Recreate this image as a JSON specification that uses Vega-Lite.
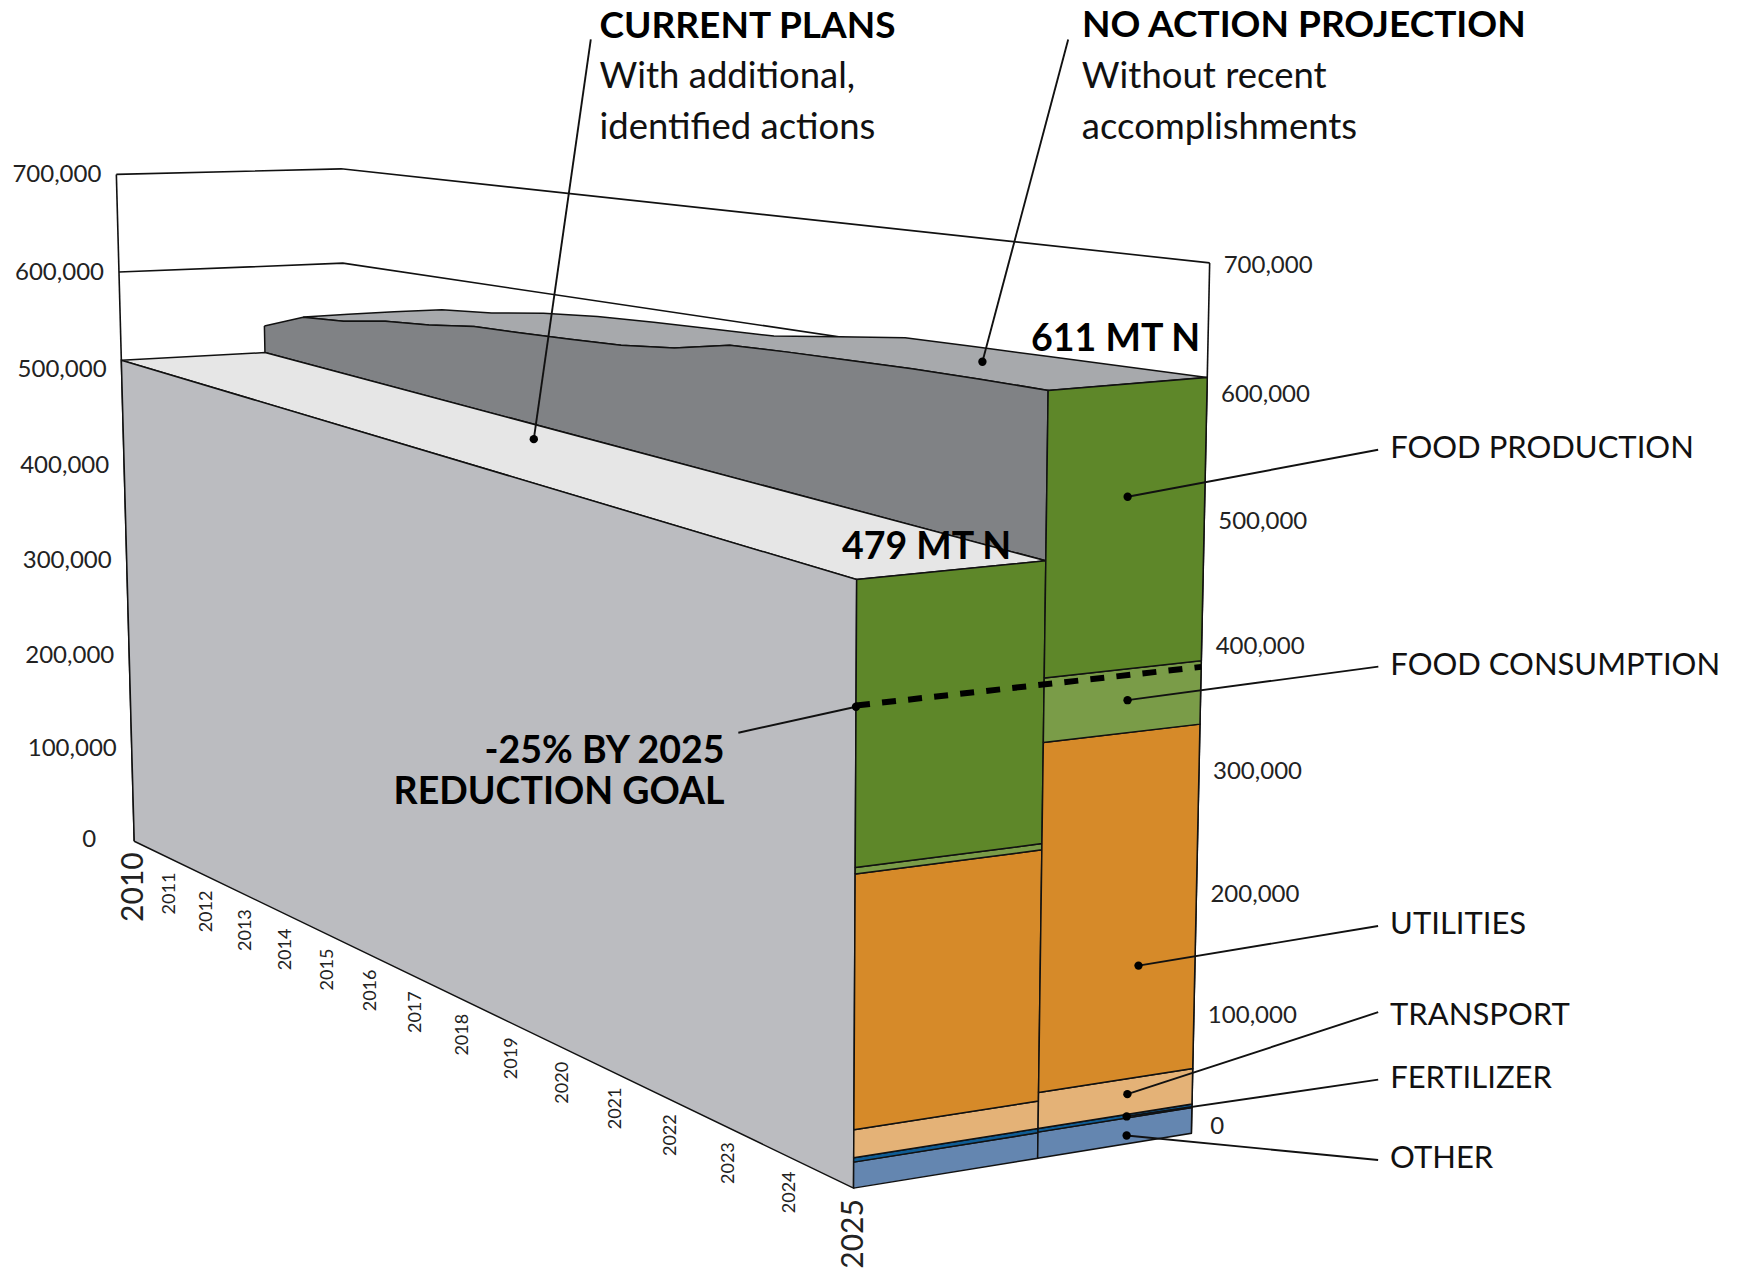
{
"$schema":"https://vega.github.io/schema/vega-lite/v6.json",
"width":1754,"height":1272,"padding":0,"autosize":{"type":"fit","contains":"padding"},
"background":"white",
"config":{"view":{"stroke":null},"font":"Lato"},
"data":{"values":[
{"set":"frame","path":"top700","i":0,"year":2010,"lane":"front","value":700000},
{"set":"frame","path":"top700","i":1,"year":2010,"lane":"frame","value":700000},
{"set":"frame","path":"top700","i":2,"year":2025,"lane":"frame","value":700000},
{"set":"frame","path":"top600","i":0,"year":2010,"lane":"front","value":600000},
{"set":"frame","path":"top600","i":1,"year":2010,"lane":"frame","value":600000},
{"set":"frame","path":"top600","i":2,"year":2025,"lane":"frame","value":600000},
{"set":"frame","path":"left","i":0,"year":2010,"lane":"front","value":700000},
{"set":"frame","path":"left","i":1,"year":2010,"lane":"front","value":0},
{"set":"frame","path":"right","i":0,"year":2025,"lane":"frame","value":700000},
{"set":"frame","path":"right","i":1,"year":2025,"lane":"frame","value":0},

{"set":"face","face":"noActionTop","kind":"No action top","i":0,"year":2010,"lane":"back","value":544600},
{"set":"face","face":"noActionTop","kind":"No action top","i":1,"year":2011,"lane":"back","value":555100},
{"set":"face","face":"noActionTop","kind":"No action top","i":2,"year":2012,"lane":"back","value":565400},
{"set":"face","face":"noActionTop","kind":"No action top","i":3,"year":2013,"lane":"back","value":574900},
{"set":"face","face":"noActionTop","kind":"No action top","i":4,"year":2014,"lane":"back","value":579200},
{"set":"face","face":"noActionTop","kind":"No action top","i":5,"year":2015,"lane":"back","value":586400},
{"set":"face","face":"noActionTop","kind":"No action top","i":6,"year":2016,"lane":"back","value":590900},
{"set":"face","face":"noActionTop","kind":"No action top","i":7,"year":2017,"lane":"back","value":593000},
{"set":"face","face":"noActionTop","kind":"No action top","i":8,"year":2018,"lane":"back","value":594500},
{"set":"face","face":"noActionTop","kind":"No action top","i":9,"year":2019,"lane":"back","value":596000},
{"set":"face","face":"noActionTop","kind":"No action top","i":10,"year":2020,"lane":"back","value":603300},
{"set":"face","face":"noActionTop","kind":"No action top","i":11,"year":2021,"lane":"back","value":610400},
{"set":"face","face":"noActionTop","kind":"No action top","i":12,"year":2022,"lane":"back","value":610700},
{"set":"face","face":"noActionTop","kind":"No action top","i":13,"year":2023,"lane":"back","value":610900},
{"set":"face","face":"noActionTop","kind":"No action top","i":14,"year":2024,"lane":"back","value":611000},
{"set":"face","face":"noActionTop","kind":"No action top","i":15,"year":2025,"lane":"back","value":611000},
{"set":"face","face":"noActionTop","kind":"No action top","i":16,"year":2025,"lane":"boundary","value":611000},
{"set":"face","face":"noActionTop","kind":"No action top","i":17,"year":2024,"lane":"boundary","value":610500},
{"set":"face","face":"noActionTop","kind":"No action top","i":18,"year":2023,"lane":"boundary","value":609500},
{"set":"face","face":"noActionTop","kind":"No action top","i":19,"year":2022,"lane":"boundary","value":607400},
{"set":"face","face":"noActionTop","kind":"No action top","i":20,"year":2021,"lane":"boundary","value":605300},
{"set":"face","face":"noActionTop","kind":"No action top","i":21,"year":2020,"lane":"boundary","value":602500},
{"set":"face","face":"noActionTop","kind":"No action top","i":22,"year":2019,"lane":"boundary","value":591500},
{"set":"face","face":"noActionTop","kind":"No action top","i":23,"year":2018,"lane":"boundary","value":585300},
{"set":"face","face":"noActionTop","kind":"No action top","i":24,"year":2017,"lane":"boundary","value":582300},
{"set":"face","face":"noActionTop","kind":"No action top","i":25,"year":2016,"lane":"boundary","value":579700},
{"set":"face","face":"noActionTop","kind":"No action top","i":26,"year":2015,"lane":"boundary","value":577400},
{"set":"face","face":"noActionTop","kind":"No action top","i":27,"year":2014,"lane":"boundary","value":570700},
{"set":"face","face":"noActionTop","kind":"No action top","i":28,"year":2013,"lane":"boundary","value":566300},
{"set":"face","face":"noActionTop","kind":"No action top","i":29,"year":2012,"lane":"boundary","value":558300},
{"set":"face","face":"noActionTop","kind":"No action top","i":30,"year":2011,"lane":"boundary","value":554400},
{"set":"face","face":"noActionTop","kind":"No action top","i":31,"year":2010,"lane":"back","value":544600},

{"set":"face","face":"noActionWall","kind":"No action wall","i":0,"year":2010,"lane":"boundary","value":537000},
{"set":"face","face":"noActionWall","kind":"No action wall","i":1,"year":2011,"lane":"boundary","value":554400},
{"set":"face","face":"noActionWall","kind":"No action wall","i":2,"year":2012,"lane":"boundary","value":558300},
{"set":"face","face":"noActionWall","kind":"No action wall","i":3,"year":2013,"lane":"boundary","value":566300},
{"set":"face","face":"noActionWall","kind":"No action wall","i":4,"year":2014,"lane":"boundary","value":570700},
{"set":"face","face":"noActionWall","kind":"No action wall","i":5,"year":2015,"lane":"boundary","value":577400},
{"set":"face","face":"noActionWall","kind":"No action wall","i":6,"year":2016,"lane":"boundary","value":579700},
{"set":"face","face":"noActionWall","kind":"No action wall","i":7,"year":2017,"lane":"boundary","value":582300},
{"set":"face","face":"noActionWall","kind":"No action wall","i":8,"year":2018,"lane":"boundary","value":585300},
{"set":"face","face":"noActionWall","kind":"No action wall","i":9,"year":2019,"lane":"boundary","value":591500},
{"set":"face","face":"noActionWall","kind":"No action wall","i":10,"year":2020,"lane":"boundary","value":602500},
{"set":"face","face":"noActionWall","kind":"No action wall","i":11,"year":2021,"lane":"boundary","value":605300},
{"set":"face","face":"noActionWall","kind":"No action wall","i":12,"year":2022,"lane":"boundary","value":607400},
{"set":"face","face":"noActionWall","kind":"No action wall","i":13,"year":2023,"lane":"boundary","value":609500},
{"set":"face","face":"noActionWall","kind":"No action wall","i":14,"year":2024,"lane":"boundary","value":610500},
{"set":"face","face":"noActionWall","kind":"No action wall","i":15,"year":2025,"lane":"boundary","value":611000},
{"set":"face","face":"noActionWall","kind":"No action wall","i":16,"year":2025,"lane":"boundary","value":479000},
{"set":"face","face":"noActionWall","kind":"No action wall","i":17,"year":2010,"lane":"boundary","value":509000},
{"set":"face","face":"noActionWall","kind":"No action wall","i":18,"year":2010,"lane":"boundary","value":537000},

{"set":"face","face":"currentTop","kind":"Current top","i":0,"year":2010,"lane":"front","value":509000},
{"set":"face","face":"currentTop","kind":"Current top","i":1,"year":2010,"lane":"boundary","value":509000},
{"set":"face","face":"currentTop","kind":"Current top","i":2,"year":2025,"lane":"boundary","value":479000},
{"set":"face","face":"currentTop","kind":"Current top","i":3,"year":2025,"lane":"front","value":479000},
{"set":"face","face":"currentTop","kind":"Current top","i":4,"year":2010,"lane":"front","value":509000},

{"set":"face","face":"currentSide","kind":"Current side","i":0,"year":2010,"lane":"front","value":0},
{"set":"face","face":"currentSide","kind":"Current side","i":1,"year":2010,"lane":"front","value":509000},
{"set":"face","face":"currentSide","kind":"Current side","i":2,"year":2025,"lane":"front","value":479000},
{"set":"face","face":"currentSide","kind":"Current side","i":3,"year":2025,"lane":"front","value":0},
{"set":"face","face":"currentSide","kind":"Current side","i":4,"year":2010,"lane":"front","value":0},

{"set":"face","face":"cur-other","kind":"Other","i":0,"year":2025,"lane":"front","value":0},
{"set":"face","face":"cur-other","kind":"Other","i":1,"year":2025,"lane":"front","value":21000},
{"set":"face","face":"cur-other","kind":"Other","i":2,"year":2025,"lane":"boundary","value":21000},
{"set":"face","face":"cur-other","kind":"Other","i":3,"year":2025,"lane":"boundary","value":0},
{"set":"face","face":"cur-other","kind":"Other","i":4,"year":2025,"lane":"front","value":0},
{"set":"face","face":"cur-fert","kind":"Fertilizer","i":0,"year":2025,"lane":"front","value":21000},
{"set":"face","face":"cur-fert","kind":"Fertilizer","i":1,"year":2025,"lane":"front","value":24500},
{"set":"face","face":"cur-fert","kind":"Fertilizer","i":2,"year":2025,"lane":"boundary","value":24500},
{"set":"face","face":"cur-fert","kind":"Fertilizer","i":3,"year":2025,"lane":"boundary","value":21000},
{"set":"face","face":"cur-fert","kind":"Fertilizer","i":4,"year":2025,"lane":"front","value":21000},
{"set":"face","face":"cur-trans","kind":"Transport","i":0,"year":2025,"lane":"front","value":24500},
{"set":"face","face":"cur-trans","kind":"Transport","i":1,"year":2025,"lane":"front","value":47000},
{"set":"face","face":"cur-trans","kind":"Transport","i":2,"year":2025,"lane":"boundary","value":47000},
{"set":"face","face":"cur-trans","kind":"Transport","i":3,"year":2025,"lane":"boundary","value":24500},
{"set":"face","face":"cur-trans","kind":"Transport","i":4,"year":2025,"lane":"front","value":24500},
{"set":"face","face":"cur-util","kind":"Utilities","i":0,"year":2025,"lane":"front","value":47000},
{"set":"face","face":"cur-util","kind":"Utilities","i":1,"year":2025,"lane":"front","value":250500},
{"set":"face","face":"cur-util","kind":"Utilities","i":2,"year":2025,"lane":"boundary","value":250500},
{"set":"face","face":"cur-util","kind":"Utilities","i":3,"year":2025,"lane":"boundary","value":47000},
{"set":"face","face":"cur-util","kind":"Utilities","i":4,"year":2025,"lane":"front","value":47000},
{"set":"face","face":"cur-cons","kind":"Food consumption","i":0,"year":2025,"lane":"front","value":250500},
{"set":"face","face":"cur-cons","kind":"Food consumption","i":1,"year":2025,"lane":"front","value":255500},
{"set":"face","face":"cur-cons","kind":"Food consumption","i":2,"year":2025,"lane":"boundary","value":255500},
{"set":"face","face":"cur-cons","kind":"Food consumption","i":3,"year":2025,"lane":"boundary","value":250500},
{"set":"face","face":"cur-cons","kind":"Food consumption","i":4,"year":2025,"lane":"front","value":250500},
{"set":"face","face":"cur-prod","kind":"Food production","i":0,"year":2025,"lane":"front","value":255500},
{"set":"face","face":"cur-prod","kind":"Food production","i":1,"year":2025,"lane":"front","value":479000},
{"set":"face","face":"cur-prod","kind":"Food production","i":2,"year":2025,"lane":"boundary","value":479000},
{"set":"face","face":"cur-prod","kind":"Food production","i":3,"year":2025,"lane":"boundary","value":255500},
{"set":"face","face":"cur-prod","kind":"Food production","i":4,"year":2025,"lane":"front","value":255500},

{"set":"face","face":"na-other","kind":"Other","i":0,"year":2025,"lane":"boundary","value":0},
{"set":"face","face":"na-other","kind":"Other","i":1,"year":2025,"lane":"boundary","value":21500},
{"set":"face","face":"na-other","kind":"Other","i":2,"year":2025,"lane":"back","value":21500},
{"set":"face","face":"na-other","kind":"Other","i":3,"year":2025,"lane":"back","value":0},
{"set":"face","face":"na-other","kind":"Other","i":4,"year":2025,"lane":"boundary","value":0},
{"set":"face","face":"na-fert","kind":"Fertilizer","i":0,"year":2025,"lane":"boundary","value":21500},
{"set":"face","face":"na-fert","kind":"Fertilizer","i":1,"year":2025,"lane":"boundary","value":24500},
{"set":"face","face":"na-fert","kind":"Fertilizer","i":2,"year":2025,"lane":"back","value":24500},
{"set":"face","face":"na-fert","kind":"Fertilizer","i":3,"year":2025,"lane":"back","value":21500},
{"set":"face","face":"na-fert","kind":"Fertilizer","i":4,"year":2025,"lane":"boundary","value":21500},
{"set":"face","face":"na-trans","kind":"Transport","i":0,"year":2025,"lane":"boundary","value":24500},
{"set":"face","face":"na-trans","kind":"Transport","i":1,"year":2025,"lane":"boundary","value":54000},
{"set":"face","face":"na-trans","kind":"Transport","i":2,"year":2025,"lane":"back","value":54000},
{"set":"face","face":"na-trans","kind":"Transport","i":3,"year":2025,"lane":"back","value":24500},
{"set":"face","face":"na-trans","kind":"Transport","i":4,"year":2025,"lane":"boundary","value":24500},
{"set":"face","face":"na-util","kind":"Utilities","i":0,"year":2025,"lane":"boundary","value":54000},
{"set":"face","face":"na-util","kind":"Utilities","i":1,"year":2025,"lane":"boundary","value":336000},
{"set":"face","face":"na-util","kind":"Utilities","i":2,"year":2025,"lane":"back","value":336000},
{"set":"face","face":"na-util","kind":"Utilities","i":3,"year":2025,"lane":"back","value":54000},
{"set":"face","face":"na-util","kind":"Utilities","i":4,"year":2025,"lane":"boundary","value":54000},
{"set":"face","face":"na-cons","kind":"Food consumption","i":0,"year":2025,"lane":"boundary","value":336000},
{"set":"face","face":"na-cons","kind":"Food consumption","i":1,"year":2025,"lane":"boundary","value":387000},
{"set":"face","face":"na-cons","kind":"Food consumption","i":2,"year":2025,"lane":"back","value":387000},
{"set":"face","face":"na-cons","kind":"Food consumption","i":3,"year":2025,"lane":"back","value":336000},
{"set":"face","face":"na-cons","kind":"Food consumption","i":4,"year":2025,"lane":"boundary","value":336000},
{"set":"face","face":"na-prod","kind":"Food production","i":0,"year":2025,"lane":"boundary","value":387000},
{"set":"face","face":"na-prod","kind":"Food production","i":1,"year":2025,"lane":"boundary","value":611000},
{"set":"face","face":"na-prod","kind":"Food production","i":2,"year":2025,"lane":"back","value":611000},
{"set":"face","face":"na-prod","kind":"Food production","i":3,"year":2025,"lane":"back","value":387000},
{"set":"face","face":"na-prod","kind":"Food production","i":4,"year":2025,"lane":"boundary","value":387000},

{"set":"goal","i":0,"year":2025,"lane":"front","value":382000},
{"set":"goal","i":1,"year":2025,"lane":"back","value":382000},

{"set":"tickLeft","year":2010,"lane":"front","value":100000},
{"set":"tickLeft","year":2010,"lane":"front","value":200000},
{"set":"tickLeft","year":2010,"lane":"front","value":300000},
{"set":"tickLeft","year":2010,"lane":"front","value":400000},
{"set":"tickLeft","year":2010,"lane":"front","value":500000},
{"set":"tickLeft","year":2010,"lane":"front","value":600000},
{"set":"tickLeft","year":2010,"lane":"front","value":700000},
{"set":"tickLeftZero","year":2010,"lane":"front","value":0},
{"set":"tickRight","year":2025,"lane":"frame","value":100000},
{"set":"tickRight","year":2025,"lane":"frame","value":200000},
{"set":"tickRight","year":2025,"lane":"frame","value":300000},
{"set":"tickRight","year":2025,"lane":"frame","value":400000},
{"set":"tickRight","year":2025,"lane":"frame","value":500000},
{"set":"tickRight","year":2025,"lane":"frame","value":600000},
{"set":"tickRight","year":2025,"lane":"frame","value":700000},
{"set":"tickRightZero","year":2025,"lane":"frame","value":0},

{"set":"yearTick","year":2010,"lane":"front","value":0},
{"set":"yearTick","year":2011,"lane":"front","value":0},
{"set":"yearTick","year":2012,"lane":"front","value":0},
{"set":"yearTick","year":2013,"lane":"front","value":0},
{"set":"yearTick","year":2014,"lane":"front","value":0},
{"set":"yearTick","year":2015,"lane":"front","value":0},
{"set":"yearTick","year":2016,"lane":"front","value":0},
{"set":"yearTick","year":2017,"lane":"front","value":0},
{"set":"yearTick","year":2018,"lane":"front","value":0},
{"set":"yearTick","year":2019,"lane":"front","value":0},
{"set":"yearTick","year":2020,"lane":"front","value":0},
{"set":"yearTick","year":2021,"lane":"front","value":0},
{"set":"yearTick","year":2022,"lane":"front","value":0},
{"set":"yearTick","year":2023,"lane":"front","value":0},
{"set":"yearTick","year":2024,"lane":"front","value":0},
{"set":"yearTick","year":2025,"lane":"front","value":0},

{"set":"leader","path":"foodProduction","i":0,"year":2025,"value":523000,"depth":0.778},
{"set":"leader","path":"foodProduction","i":1,"year":2025,"value":542000,"depth":1.496},
{"set":"leader","path":"foodConsumption","i":0,"year":2025,"value":362000,"depth":0.788},
{"set":"leader","path":"foodConsumption","i":1,"year":2025,"value":366000,"depth":1.515},
{"set":"leader","path":"utilities","i":0,"year":2025,"value":145900,"depth":0.834},
{"set":"leader","path":"utilities","i":1,"year":2025,"value":150400,"depth":1.537},
{"set":"leader","path":"transport","i":0,"year":2025,"value":41200,"depth":0.808},
{"set":"leader","path":"transport","i":1,"year":2025,"value":77500,"depth":1.545},
{"set":"leader","path":"fertilizer","i":0,"year":2025,"value":22800,"depth":0.807},
{"set":"leader","path":"fertilizer","i":1,"year":2025,"value":20000,"depth":1.551},
{"set":"leader","path":"other","i":0,"year":2025,"value":6900,"depth":0.808},
{"set":"leader","path":"other","i":1,"year":2025,"value":-49000,"depth":1.558},
{"set":"leader","path":"goal","i":0,"year":2025,"value":381000,"depth":0},
{"set":"leader","path":"goal","i":1,"year":2025,"value":371200,"depth":-0.341},
{"set":"leader","path":"currentPlans","i":0,"year":2025,"value":606000,"depth":-0.926},
{"set":"leader","path":"currentPlans","i":1,"year":2025,"value":892000,"depth":-0.756},
{"set":"leader","path":"noAction","i":0,"year":2025,"value":637000,"depth":0.356},
{"set":"leader","path":"noAction","i":1,"year":2025,"value":876000,"depth":0.588},

{"set":"heading","label":"CURRENT PLANS","year":2025,"value":902000,"depth":-0.731},
{"set":"heading","label":"NO ACTION PROJECTION","year":2025,"value":887000,"depth":0.626},
{"set":"sub","label":"With additional,","year":2025,"value":866000,"depth":-0.732},
{"set":"sub","label":"identified actions","year":2025,"value":830000,"depth":-0.733},
{"set":"sub","label":"Without recent","year":2025,"value":849000,"depth":0.628},
{"set":"sub","label":"accomplishments","year":2025,"value":811000,"depth":0.63},
{"set":"callout","label":"FOOD PRODUCTION","year":2025,"value":542000,"depth":1.496},
{"set":"callout","label":"FOOD CONSUMPTION","year":2025,"value":366000,"depth":1.515},
{"set":"callout","label":"UTILITIES","year":2025,"value":150400,"depth":1.537},
{"set":"callout","label":"TRANSPORT","year":2025,"value":73500,"depth":1.545},
{"set":"callout","label":"FERTILIZER","year":2025,"value":20000,"depth":1.551},
{"set":"callout","label":"OTHER","year":2025,"value":-49000,"depth":1.558},
{"set":"goalText","label":"-25% BY 2025","year":2025,"value":359500,"depth":-0.381},
{"set":"goalText","label":"REDUCTION GOAL","year":2025,"value":327800,"depth":-0.381},
{"set":"total479","label":"479 MT N","year":2025,"value":479000,"depth":0.445},
{"set":"total611","label":"611 MT N","year":2025,"value":611000,"depth":0.98}
]},
"transform":[
{"calculate":"(datum.year-2010)/15","as":"t"},
{"calculate":"datum.value/100000","as":"v"},
{"calculate":"datum.lane=='front'?0:datum.lane=='boundary'?0.644-0.099*datum.t:datum.lane=='back'?0.822+0.178*datum.t:datum.lane=='frame'?1:datum.depth","as":"d"},
{"calculate":"1-0.2632*datum.t-0.0041*datum.v","as":"w"},
{"calculate":"(120+442.2*datum.t-2.71*datum.v+datum.d*(195.2+27.3*datum.t))/datum.w","as":"sx"},
{"calculate":"(752+30.5*datum.t-85.8*datum.v+datum.d*(-25.4-10.7*datum.t)+2.94*datum.v*datum.d)/datum.w","as":"sy"}
],
"encoding":{
"x":{"field":"sx","type":"quantitative","axis":null,"scale":{"domain":[0,1568],"nice":false,"zero":false}},
"y":{"field":"sy","type":"quantitative","axis":null,"scale":{"domain":[1137,0],"nice":false,"zero":false}}
},
"layer":[
{"transform":[{"filter":"datum.set=='frame'"}],
 "mark":{"type":"line","stroke":"#111111","strokeWidth":1.6},
 "encoding":{"detail":{"field":"path"},"order":{"field":"i","type":"quantitative"}}},
{"transform":[{"filter":"datum.set=='face'"}],
 "mark":{"type":"line","stroke":"#111111","strokeWidth":1.5,"strokeJoin":"miter"},
 "encoding":{
  "detail":{"field":"face"},
  "order":{"field":"i","type":"quantitative"},
  "fill":{"field":"kind","type":"nominal","legend":null,"scale":{
    "domain":["No action top","No action wall","Current top","Current side","Other","Fertilizer","Transport","Utilities","Food consumption","Food production"],
    "range":["#A7A9AC","#808285","#E6E6E6","#BBBCC0","#6486B0","#0F5C94","#E4B277","#D68A29","#7A9C48","#5E8729"]}}}},
{"transform":[{"filter":"datum.set=='goal'"}],
 "mark":{"type":"line","stroke":"#000000","strokeWidth":6,"strokeDash":[14,12.2]},
 "encoding":{"order":{"field":"i","type":"quantitative"}}},
{"transform":[{"filter":"datum.set=='leader'"}],
 "mark":{"type":"line","stroke":"#111111","strokeWidth":1.9},
 "encoding":{"detail":{"field":"path"},"order":{"field":"i","type":"quantitative"}}},
{"transform":[{"filter":"datum.set=='leader'&&datum.i==0"}],
 "mark":{"type":"circle","color":"#000000","size":70,"opacity":1}},
{"transform":[{"filter":"datum.set=='tickLeft'"}],
 "mark":{"type":"text","align":"right","baseline":"middle","dx":-15,"dy":1,"fontSize":24,"color":"#222222"},
 "encoding":{"text":{"field":"value","type":"quantitative","format":","}}},
{"transform":[{"filter":"datum.set=='tickLeftZero'"}],
 "mark":{"type":"text","align":"right","baseline":"middle","dx":-38,"dy":-1,"fontSize":24,"color":"#222222"},
 "encoding":{"text":{"field":"value","type":"quantitative","format":","}}},
{"transform":[{"filter":"datum.set=='tickRight'"}],
 "mark":{"type":"text","align":"left","baseline":"middle","dx":14,"dy":3,"fontSize":24,"color":"#222222"},
 "encoding":{"text":{"field":"value","type":"quantitative","format":","}}},
{"transform":[{"filter":"datum.set=='tickRightZero'"}],
 "mark":{"type":"text","align":"left","baseline":"middle","dx":19,"dy":-6,"fontSize":24,"color":"#222222"},
 "encoding":{"text":{"field":"value","type":"quantitative","format":","}}},
{"transform":[{"filter":"datum.set=='yearTick'&&(datum.year==2010||datum.year==2025)"}],
 "mark":{"type":"text","angle":270,"align":"right","baseline":"middle","dx":-11,"fontSize":30,"color":"#222222"},
 "encoding":{"text":{"field":"year","type":"nominal"}}},
{"transform":[{"filter":"datum.set=='yearTick'&&datum.year!=2010&&datum.year!=2025"}],
 "mark":{"type":"text","angle":270,"align":"right","baseline":"middle","dx":-14,"fontSize":18,"color":"#222222"},
 "encoding":{"text":{"field":"year","type":"nominal"}}},
{"transform":[{"filter":"datum.set=='heading'"}],
 "mark":{"type":"text","align":"left","baseline":"middle","dy":2,"fontSize":37,"fontWeight":"bold","color":"#000000"},
 "encoding":{"text":{"field":"label"}}},
{"transform":[{"filter":"datum.set=='sub'"}],
 "mark":{"type":"text","align":"left","baseline":"middle","dy":2,"fontSize":36.5,"color":"#111111"},
 "encoding":{"text":{"field":"label"}}},
{"transform":[{"filter":"datum.set=='callout'"}],
 "mark":{"type":"text","align":"left","baseline":"middle","dx":12,"dy":-1,"fontSize":31,"color":"#111111"},
 "encoding":{"text":{"field":"label"}}},
{"transform":[{"filter":"datum.set=='goalText'"}],
 "mark":{"type":"text","align":"right","baseline":"middle","dy":2,"fontSize":37.5,"fontWeight":"bold","color":"#000000"},
 "encoding":{"text":{"field":"label"}}},
{"transform":[{"filter":"datum.set=='total479'"}],
 "mark":{"type":"text","align":"right","baseline":"middle","dy":-16,"fontSize":37.5,"fontWeight":"bold","color":"#000000"},
 "encoding":{"text":{"field":"label"}}},
{"transform":[{"filter":"datum.set=='total611'"}],
 "mark":{"type":"text","align":"right","baseline":"middle","dy":-38,"fontSize":37.5,"fontWeight":"bold","color":"#000000"},
 "encoding":{"text":{"field":"label"}}}
]
}
